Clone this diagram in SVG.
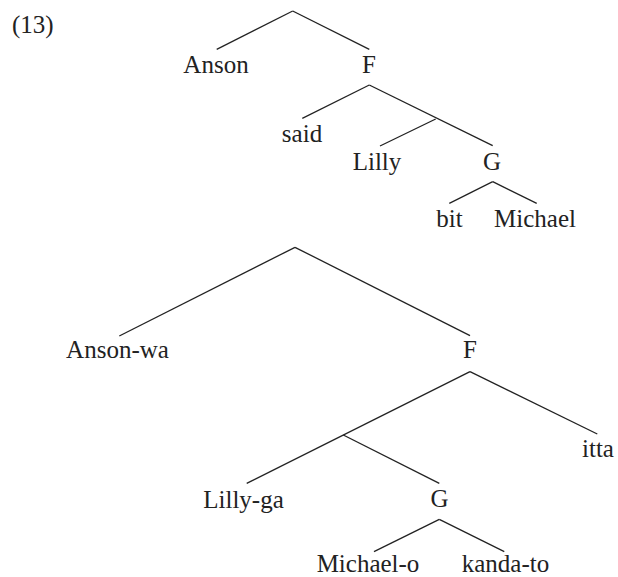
<svg xmlns="http://www.w3.org/2000/svg" width="618" height="577" viewBox="0 0 618 577" font-family="'Liberation Serif', 'Times New Roman', 'DejaVu Serif', serif">
<style>
  text { font-family: "Liberation Serif", "Times New Roman", "DejaVu Serif", serif; font-size: 25px; fill: #222; text-anchor: middle; }
  .lab { text-anchor: start; }
  line { stroke: #222; stroke-width: 1.3; fill: none; }
</style>
<rect width="618" height="577" fill="#ffffff"/>
<text class="lab" x="12" y="33">(13)</text>
<g id="connectors">
  <line x1="292.7" y1="11" x2="216.7" y2="49.3"/>
  <line x1="292.7" y1="11" x2="369.3" y2="49.3"/>
  <line x1="369.3" y1="85" x2="302.3" y2="118.3"/>
  <line x1="369.3" y1="85" x2="492.7" y2="145.7"/>
  <line x1="435.7" y1="119" x2="380" y2="146"/>
  <line x1="492.7" y1="181.7" x2="449.3" y2="203.3"/>
  <line x1="492.7" y1="181.7" x2="536.7" y2="203.3"/>
  <line x1="295" y1="247.3" x2="119.3" y2="336"/>
  <line x1="295" y1="247.3" x2="470" y2="335.7"/>
  <line x1="470" y1="371.7" x2="246.7" y2="483.3"/>
  <line x1="470" y1="371.7" x2="597.3" y2="434"/>
  <line x1="343.3" y1="435" x2="439.3" y2="483.3"/>
  <line x1="439.3" y1="519.3" x2="374" y2="551.7"/>
  <line x1="439.3" y1="519.3" x2="504.3" y2="551.7"/>
</g>
<g id="t1-anson"><text x="216" y="73">Anson</text></g>
<g id="t1-f"><text x="369" y="73">F</text></g>
<g id="t1-said"><text x="302" y="142">said</text></g>
<g id="t1-lilly"><text x="377" y="170">Lilly</text></g>
<g id="t1-g"><text x="492" y="170">G</text></g>
<g id="t1-bit"><text x="449.5" y="227">bit</text></g>
<g id="t1-michael"><text x="535" y="227">Michael</text></g>
<g id="t2-anson-wa"><text x="117.5" y="358">Anson-wa</text></g>
<g id="t2-f"><text x="470" y="358">F</text></g>
<g id="t2-itta"><text x="598" y="457">itta</text></g>
<g id="t2-lilly-ga"><text x="243.5" y="508">Lilly-ga</text></g>
<g id="t2-g"><text x="439.5" y="507">G</text></g>
<g id="t2-michael-o"><text x="368" y="572">Michael-o</text></g>
<g id="t2-kanda-to"><text x="505.5" y="572">kanda-to</text></g>
</svg>
